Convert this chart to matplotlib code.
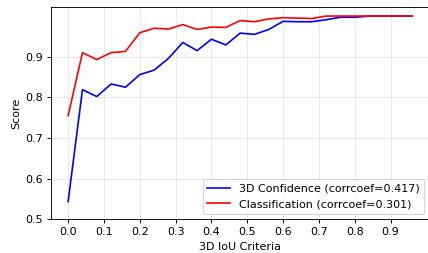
import matplotlib
matplotlib.use('Agg')
import matplotlib.pyplot as plt
import numpy as np

iou = [0.00, 0.04, 0.08, 0.12, 0.16, 0.20, 0.24, 0.28, 0.32, 0.36, 0.40, 0.44, 0.48,
       0.52, 0.56, 0.60, 0.64, 0.68, 0.72, 0.76, 0.80, 0.84, 0.88, 0.92, 0.96]
conf_3d = [0.544, 0.819, 0.802, 0.833, 0.825, 0.856, 0.867, 0.896, 0.935, 0.915, 0.943, 0.929, 0.958,
           0.955, 0.967, 0.987, 0.986, 0.986, 0.991, 0.997, 0.997, 1.0, 1.0, 1.0, 1.0]
cls = [0.755, 0.910, 0.893, 0.910, 0.913, 0.959, 0.970, 0.968, 0.979, 0.967, 0.973, 0.972, 0.989,
       0.986, 0.993, 0.996, 0.995, 0.994, 1.0, 1.0, 1.0, 1.0, 1.0, 1.0, 1.0]

DPI = 80
fig, ax = plt.subplots(figsize=(428 / DPI, 253 / DPI), dpi=DPI)
ax.plot(iou, conf_3d, color='blue', label='3D Confidence (corrcoef=0.417)')
ax.plot(iou, cls, color='red', label='Classification (corrcoef=0.301)')

ax.set_xticks(np.arange(0, 1.0, 0.1))
ax.set_yticks(np.arange(0.5, 0.95, 0.1))
ax.set_xlim(-0.048, 1.008)
ax.set_ylim(0.5, 1.023)
ax.set_xlabel('3D IoU Criteria')
ax.set_ylabel('Score')
ax.grid(alpha=0.3)
ax.legend(loc='lower right')

# the original picture is cut just before the right spine
plt.subplots_adjust(left=0.119, right=1.003, bottom=0.133, top=0.9735)
plt.savefig('out.png', dpi=DPI)
